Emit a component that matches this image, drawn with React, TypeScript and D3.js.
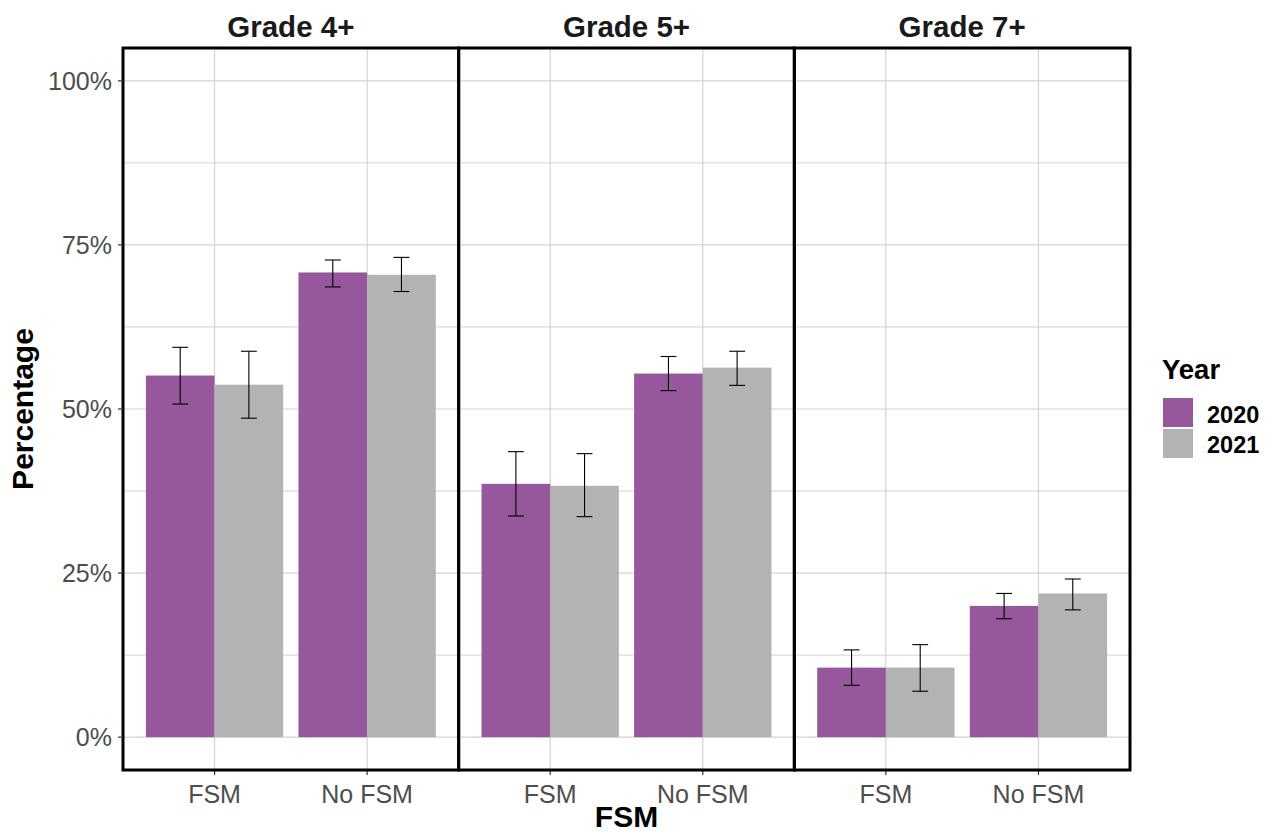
import React from "react";
import * as d3 from "d3";

const grades = ["Grade 4+", "Grade 5+", "Grade 7+"];
const fsmCats = ["FSM", "No FSM"];
const years = ["2020", "2021"];
const yearColors = ["#96579c", "#b3b3b3"];

// values per grade, per FSM category (FSM, No FSM)
const pct2020 = [[55.1, 70.8], [38.6, 55.4], [10.6, 20.0]];
const low2020 = [[50.75, 68.6], [33.7, 52.8], [7.9, 18.05]];
const high2020 = [[59.4, 72.7], [43.5, 58.0], [13.3, 21.9]];
const pct2021 = [[53.7, 70.45], [38.3, 56.3], [10.6, 21.9]];
const low2021 = [[48.6, 67.9], [33.6, 53.6], [7.0, 19.4]];
const high2021 = [[58.8, 73.1], [43.2, 58.8], [14.1, 24.1]];

const yTicks = [0, 25, 50, 75, 100];
const yMinor = [12.5, 37.5, 62.5, 87.5];

const W = 1281, H = 834;
const panelLeft = 123, panelRight = 1130, panelTop = 48, panelBottom = 770;
const FONT = "Liberation Sans, Arial, Helvetica, sans-serif";

export default function App() {
  const panelX = d3.scaleBand<string>().domain(grades).range([panelLeft, panelRight]).padding(0);
  const pw = panelX.bandwidth();
  const y = d3.scaleLinear().domain([-5, 105]).range([panelBottom, panelTop]);
  const x = d3.scaleLinear().domain([0.4, 2.6]).range([0, pw]);
  const unit = x(1) - x(0);
  const barW = 0.45 * unit;
  const capHalf = 0.052 * unit;
  const series = [
    { pct: pct2020, lo: low2020, hi: high2020 },
    { pct: pct2021, lo: low2021, hi: high2021 },
  ];
  const fmt = (v: number) => `${v}%`;

  return (
    <svg width={W} height={H} style={{ position: "absolute", left: 0, top: 0, background: "#fff" }} fontFamily={FONT}>
      <rect x={0} y={0} width={W} height={H} fill="#fff" />
      {grades.map((g, gi) => {
        const px = panelX(g)!;
        return (
          <g key={g}>
            {/* grid */}
            {yMinor.map((t) => (
              <line key={"mi" + t} x1={px} x2={px + pw} y1={y(t)} y2={y(t)} stroke="#d3d3d3" strokeWidth={1} />
            ))}
            {yTicks.map((t) => (
              <line key={"ma" + t} x1={px} x2={px + pw} y1={y(t)} y2={y(t)} stroke="#d3d3d3" strokeWidth={1.2} />
            ))}
            {fsmCats.map((c, ci) => (
              <line key={"v" + c} x1={px + x(ci + 1)} x2={px + x(ci + 1)} y1={panelTop} y2={panelBottom} stroke="#d3d3d3" strokeWidth={1.2} />
            ))}
            {/* bars */}
            {fsmCats.map((c, ci) =>
              series.map((s, si) => {
                const cx = px + x(ci + 1) + (si === 0 ? -barW / 2 : barW / 2);
                const v = s.pct[gi][ci];
                return (
                  <rect key={c + si} x={cx - barW / 2} width={barW} y={y(v)} height={y(0) - y(v)} fill={yearColors[si]} />
                );
              })
            )}
            {/* error bars */}
            {fsmCats.map((c, ci) =>
              series.map((s, si) => {
                const cx = px + x(ci + 1) + (si === 0 ? -barW / 2 : barW / 2);
                const lo = y(s.lo[gi][ci]);
                const hi = y(s.hi[gi][ci]);
                return (
                  <g key={"e" + c + si} stroke="#000" strokeWidth={1.1}>
                    <line x1={cx} x2={cx} y1={hi} y2={lo} />
                    <line x1={cx - capHalf} x2={cx + capHalf} y1={hi} y2={hi} />
                    <line x1={cx - capHalf} x2={cx + capHalf} y1={lo} y2={lo} />
                  </g>
                );
              })
            )}
            {/* x ticks and labels */}
            {fsmCats.map((c, ci) => (
              <g key={"xt" + c}>
                <line x1={px + x(ci + 1)} x2={px + x(ci + 1)} y1={panelBottom} y2={panelBottom + 5} stroke="#333" strokeWidth={1.2} />
                <text x={px + x(ci + 1)} y={803} textAnchor="middle" fontSize={25} fill="#4d4d4d">{c}</text>
              </g>
            ))}
            {/* strip title */}
            <text x={px + pw / 2} y={37} textAnchor="middle" fontSize={29.5} fontWeight="bold" fill="#1a1a1a">{g}</text>
            {/* panel border */}
            <rect x={px} y={panelTop} width={pw} height={panelBottom - panelTop} fill="none" stroke="#000" strokeWidth={3} />
          </g>
        );
      })}
      {/* y axis */}
      {yTicks.map((t) => (
        <g key={"yt" + t}>
          <line x1={panelLeft - 5} x2={panelLeft} y1={y(t)} y2={y(t)} stroke="#333" strokeWidth={1.2} />
          <text x={112} y={y(t)} dy="0.35em" textAnchor="end" fontSize={25} fill="#4d4d4d">{fmt(t)}</text>
        </g>
      ))}
      {/* axis titles */}
      <text x={(panelLeft + panelRight) / 2} y={827} textAnchor="middle" fontSize={30} fontWeight="bold" fill="#000">FSM</text>
      <text transform={`translate(33, ${(panelTop + panelBottom) / 2}) rotate(-90)`} textAnchor="middle" fontSize={30} fontWeight="bold" fill="#000">Percentage</text>
      {/* legend */}
      <text x={1162} y={379} fontSize={27.5} fontWeight="bold" fill="#000">Year</text>
      {years.map((yr, i) => (
        <g key={yr}>
          <rect x={1163} y={398 + i * 31} width={30} height={29} fill={yearColors[i]} />
          <text x={1207} y={423 + i * 30} fontSize={23.5} fontWeight="bold" fill="#000">{yr}</text>
        </g>
      ))}
    </svg>
  );
}
